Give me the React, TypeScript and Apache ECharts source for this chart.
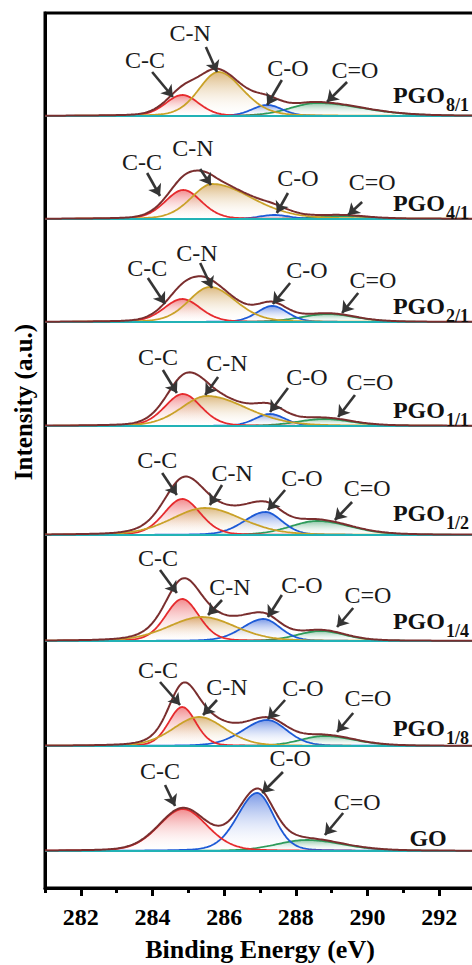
import React, { useEffect, useRef } from 'react';
import * as echarts from 'echarts';

// Samples, top to bottom
const SAMPLE_BASE = ['PGO', 'PGO', 'PGO', 'PGO', 'PGO', 'PGO', 'PGO', 'GO'];
const SAMPLE_SUB = ['8/1', '4/1', '2/1', '1/1', '1/2', '1/4', '1/8', ''];

// Binding-energy axis ticks (eV)
const X_TICKS = [282, 284, 286, 288, 290, 292];
const X_MINOR_TICKS = [281, 283, 285, 287, 289, 291, 293];

// Fitted C 1s components: [centre (eV), height (a.u.), low-BE HWHM, high-BE HWHM]
const CC_PEAKS = [
  [284.83, 21, 0.55, 0.55],
  [284.86, 29, 0.6, 0.6],
  [284.83, 23, 0.6, 0.6],
  [284.85, 32, 0.6, 0.6],
  [284.83, 36, 0.6, 0.6],
  [284.83, 42, 0.55, 0.55],
  [284.83, 39, 0.45, 0.45],
  [284.85, 42, 0.8, 0.8],
];
const CN_PEAKS = [
  [285.84, 44, 0.65, 0.8],
  [285.67, 35, 0.7, 1.3],
  [285.6, 35, 0.7, 0.85],
  [285.52, 30, 0.85, 1.3],
  [285.47, 27, 1.1, 1.2],
  [285.38, 24, 1.1, 1.1],
  [285.3, 29, 0.85, 0.85],
  null,
];
const CO_PEAKS = [
  [287.2, 11, 0.5, 0.5],
  [287.4, 4, 0.5, 0.5],
  [287.34, 16, 0.5, 0.5],
  [287.28, 12, 0.5, 0.5],
  [287.15, 23, 0.7, 0.55],
  [287.1, 22, 0.7, 0.55],
  [287.2, 26, 0.8, 0.65],
  [286.92, 58, 0.65, 0.55],
];
const CDO_PEAKS = [
  [288.6, 13, 0.9, 1.5],
  [289.3, 3, 0.8, 0.8],
  [288.9, 8, 0.9, 0.9],
  [288.8, 7, 0.9, 0.9],
  [288.6, 14, 0.9, 1.1],
  [288.7, 10, 0.8, 0.8],
  [288.8, 10, 0.8, 1.0],
  [288.3, 11, 1.0, 1.2],
];

// Layout: vertical offset of each spectrum in the stack, and label placement
const PANEL_OFFSETS = [772, 669, 566, 462, 353, 247, 142, 37];
const NAME_RISE = [21, 16, 16, 16, 22, 20, 18, 13];
const NAME_E = [291.77, 291.77, 291.77, 291.77, 291.77, 291.77, 291.77, 291.69];

// [text, textE, textRise, arrowFromE, arrowFromRise, arrowToE, arrowToRise]
const ANNOTATIONS: [string, number, number, number, number, number, number][][] = [
  [
    ['C-C', 283.79, 56, 283.99, 44, 284.57, 19],
    ['C-N', 285.05, 83, 285.49, 69, 285.8, 44],
    ['C-O', 287.78, 48, 287.61, 36, 287.2, 11],
    ['C=O', 289.65, 46, 289.43, 34, 288.87, 14],
  ],
  [
    ['C-C', 283.71, 57, 283.85, 46, 284.21, 23],
    ['C-N', 285.13, 71, 285.33, 50, 285.63, 34],
    ['C-O', 288.06, 41, 287.78, 26, 287.47, 6],
    ['C=O', 290.13, 37, 289.85, 17, 289.46, 4],
  ],
  [
    ['C-C', 283.85, 54, 283.87, 44, 284.35, 18],
    ['C-N', 285.24, 69, 285.33, 59, 285.66, 34],
    ['C-O', 288.31, 52, 287.84, 39, 287.36, 18],
    ['C=O', 290.15, 42, 289.74, 29, 289.29, 9],
  ],
  [
    ['C-C', 284.15, 69, 284.29, 56, 284.68, 33],
    ['C-N', 286.08, 63, 285.83, 49, 285.47, 31],
    ['C-O', 288.31, 49, 287.78, 38, 287.28, 14],
    ['C=O', 290.07, 44, 289.65, 31, 289.18, 9],
  ],
  [
    ['C-C', 284.13, 75, 284.27, 62, 284.68, 40],
    ['C-N', 286.22, 62, 285.94, 50, 285.6, 30],
    ['C-O', 288.17, 57, 287.7, 45, 287.22, 25],
    ['C=O', 289.99, 47, 289.57, 33, 289.09, 15],
  ],
  [
    ['C-C', 284.15, 83, 284.21, 71, 284.68, 48],
    ['C-N', 286.16, 54, 285.94, 41, 285.55, 26],
    ['C-O', 288.17, 56, 287.61, 46, 287.22, 24],
    ['C=O', 290.01, 46, 289.6, 33, 289.15, 14],
  ],
  [
    ['C-C', 284.15, 76, 284.21, 64, 284.77, 41],
    ['C-N', 286.08, 59, 285.8, 46, 285.41, 31],
    ['C-O', 288.2, 58, 287.7, 46, 287.22, 27],
    ['C=O', 290.01, 48, 289.6, 33, 289.15, 14],
  ],
  [
    ['C-C', 284.21, 80, 284.35, 66, 284.63, 45],
    ['C-O', 287.84, 93, 287.64, 79, 287.06, 58],
    ['C=O', 289.71, 49, 289.32, 38, 288.81, 16],
  ],
];

const SERIF = 'Liberation Serif';
const E_MIN = 281;
const E_MAX = 293;
const E_STEP = 0.04;
const LORENTZ_MIX = 0.2;

// Drawing order: later components paint their fill over earlier lines
const COMPONENTS = [
  { key: 'C=O', peaks: CDO_PEAKS, line: '#2e9b5b', fill: 'rgba(50,150,95,0.8)' },
  { key: 'C-O', peaks: CO_PEAKS, line: '#1d5ad6', fill: 'rgba(38,88,215,0.88)' },
  { key: 'C-C', peaks: CC_PEAKS, line: '#e62b2e', fill: 'rgba(232,58,62,0.85)' },
  { key: 'C-N', peaks: CN_PEAKS, line: '#c9a128', fill: 'rgba(196,136,40,0.85)' },
];

// Asymmetric Gaussian–Lorentzian (sum form) line shape
function peakShape(e: number, p: number[]) {
  const [c, h, wl, wr] = p;
  const d = e - c;
  const t = d / (d < 0 ? wl : wr);
  return h * ((1 - LORENTZ_MIX) * Math.exp(-Math.LN2 * t * t) + LORENTZ_MIX / (1 + t * t));
}

function fadeFill(top: string) {
  return {
    type: 'linear',
    x: 0,
    y: 0,
    x2: 0,
    y2: 1,
    colorStops: [
      { offset: 0, color: top },
      { offset: 1, color: 'rgba(255,255,255,0.05)' },
    ],
  };
}

const calloutLabel = {
  show: true,
  position: 'inside',
  formatter: '{b}',
  color: '#1a1a1a',
  fontSize: 24,
  fontFamily: SERIF,
  fontWeight: 'normal',
};

function buildOption() {
  const energies: number[] = [];
  const n = Math.round((E_MAX - E_MIN) / E_STEP);
  for (let k = 0; k <= n; k++) energies.push(+(E_MIN + k * E_STEP).toFixed(3));

  const series: any[] = [];
  SAMPLE_BASE.forEach((base, i) => {
    const off = PANEL_OFFSETS[i];
    const envelope = energies.map(() => 0);

    COMPONENTS.forEach((comp) => {
      const p = comp.peaks[i];
      if (!p) return;
      const data = energies.map((e, k) => {
        const v = peakShape(e, p);
        envelope[k] += v;
        return [e, off + v];
      });
      series.push({
        type: 'line',
        name: `${base}${SAMPLE_SUB[i]} ${comp.key}`,
        data,
        symbol: 'none',
        showSymbol: false,
        silent: true,
        lineStyle: { color: comp.line, width: 1.8 },
        areaStyle: { origin: off, color: fadeFill(comp.fill) },
      });
    });

    // flat background
    series.push({
      type: 'line',
      name: `${base}${SAMPLE_SUB[i]} background`,
      data: [
        [E_MIN, off],
        [E_MAX, off],
      ],
      symbol: 'none',
      silent: true,
      lineStyle: { color: '#22b2b6', width: 2 },
    });

    const notes = ANNOTATIONS[i];
    const nameLabel = SAMPLE_SUB[i]
      ? `{a|${base}}{b|${SAMPLE_SUB[i]}}`
      : `{a|${base}}`;

    // fitted envelope, with component call-outs and the sample name
    series.push({
      type: 'line',
      name: `${base}${SAMPLE_SUB[i]} envelope`,
      data: energies.map((e, k) => [e, off + envelope[k]]),
      symbol: 'none',
      silent: true,
      lineStyle: { color: '#7a2e2e', width: 2 },
      markLine: {
        silent: true,
        symbol: ['none', 'arrow'],
        symbolSize: 11,
        label: { show: false },
        lineStyle: { color: '#353535', width: 2.6, type: 'solid' },
        emphasis: { disabled: true },
        data: notes.map((a) => [
          { coord: [a[3], off + a[4]] },
          { coord: [a[5], off + a[6]] },
        ]),
      },
      markPoint: {
        silent: true,
        symbol: 'rect',
        symbolSize: 1,
        itemStyle: { color: 'rgba(0,0,0,0)' },
        label: calloutLabel,
        data: [
          ...notes.map((a) => ({
            name: a[0],
            coord: [a[1], off + a[2]],
            label: { ...calloutLabel },
          })),
          {
            name: `${base}${SAMPLE_SUB[i]}`,
            coord: [NAME_E[i], off + NAME_RISE[i]],
            label: {
              show: true,
              position: 'inside',
              formatter: nameLabel,
              rich: {
                a: { fontSize: 24, fontWeight: 'bold', fontFamily: SERIF, color: '#111' },
                b: {
                  fontSize: 18,
                  fontWeight: 'bold',
                  fontFamily: SERIF,
                  color: '#111',
                  padding: [20, 0, 0, 1],
                },
              },
            },
          },
        ],
      },
    });
  });

  return {
    animation: false,
    grid: {
      left: 45,
      top: 13,
      width: 430,
      height: 875,
      outerBoundsMode: 'none',
      containLabel: false,
      show: true,
      borderColor: '#000',
      borderWidth: 3,
      backgroundColor: 'transparent',
    },
    xAxis: [
      {
        type: 'value',
        min: E_MIN,
        max: E_MAX,
        position: 'bottom',
        axisLine: { show: true, onZero: false, lineStyle: { color: '#000', width: 3 } },
        axisTick: {
          show: true,
          customValues: X_TICKS,
          length: 8,
          inside: false,
          lineStyle: { color: '#000', width: 3 },
        },
        axisLabel: {
          customValues: X_TICKS,
          margin: 17,
          color: '#000',
          fontSize: 24,
          fontWeight: 'bold',
          fontFamily: SERIF,
        },
        splitLine: { show: false },
        name: 'Binding Energy (eV)',
        nameLocation: 'middle',
        nameGap: 48,
        nameTextStyle: { color: '#000', fontSize: 26, fontWeight: 'bold', fontFamily: SERIF },
      },
      {
        type: 'value',
        min: E_MIN,
        max: E_MAX,
        position: 'bottom',
        axisLine: { show: false },
        axisTick: {
          show: true,
          customValues: X_MINOR_TICKS,
          length: 5,
          inside: false,
          lineStyle: { color: '#000', width: 3 },
        },
        axisLabel: { show: false },
        splitLine: { show: false },
      },
    ],
    yAxis: {
      type: 'value',
      min: 0,
      max: 875,
      axisLine: { show: true, onZero: false, lineStyle: { color: '#000', width: 3 } },
      axisTick: { show: false },
      axisLabel: { show: false },
      splitLine: { show: false },
    },
    graphic: [
      {
        type: 'text',
        x: 23,
        y: 402,
        rotation: Math.PI / 2,
        style: {
          text: 'Intensity (a.u.)',
          fill: '#000',
          font: `bold 25px ${SERIF}`,
          textAlign: 'center',
          textVerticalAlign: 'middle',
          align: 'center',
          verticalAlign: 'middle',
        },
      },
    ],
    series,
  };
}

export default function App() {
  const ref = useRef<HTMLDivElement>(null);
  useEffect(() => {
    if (!ref.current) return;
    const chart = echarts.init(ref.current, null, { renderer: 'svg' });
    chart.setOption(buildOption() as any);
    return () => chart.dispose();
  }, []);
  return (
    <div
      ref={ref}
      style={{ position: 'absolute', left: 0, top: 0, width: 472, height: 965, background: '#fff' }}
    />
  );
}
